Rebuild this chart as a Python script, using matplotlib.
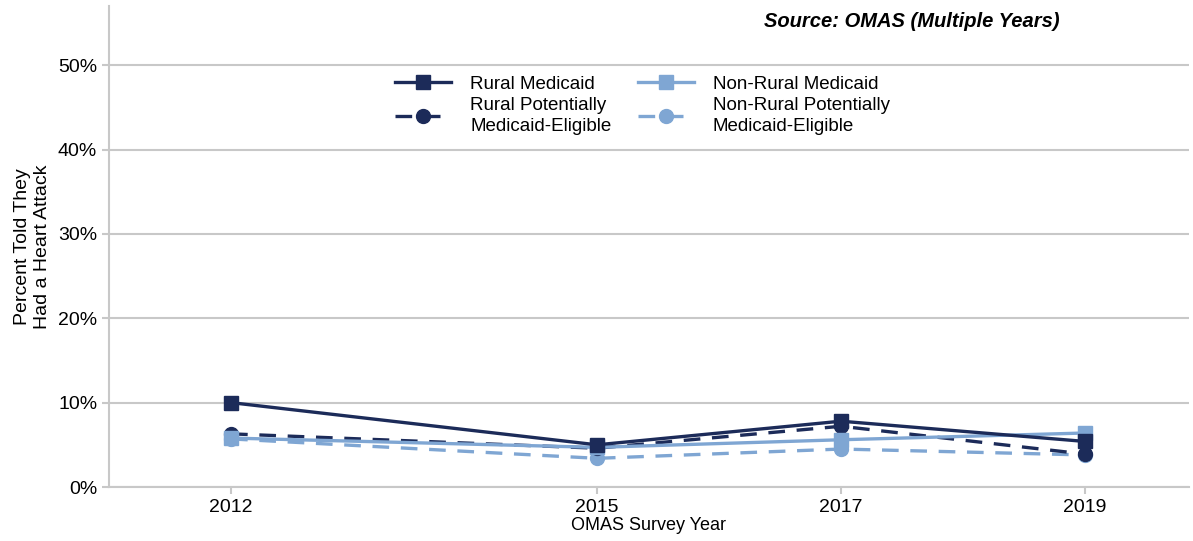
import matplotlib.pyplot as plt
from matplotlib.ticker import PercentFormatter

# Datos (porcentaje)
anios = [2012, 2015, 2017, 2019]
rural_medicaid = [10.0, 5.0, 7.8, 5.4]
rural_elegible = [6.3, 4.6, 7.2, 3.9]
no_rural_medicaid = [5.8, 4.7, 5.6, 6.4]
no_rural_elegible = [5.7, 3.4, 4.5, 3.8]

azul_oscuro = "#1C2B59"
azul_claro = "#7FA6D3"
gris = "#C8C8C8"

plt.rcParams["font.family"] = ["Liberation Sans", "DejaVu Sans"]

fig = plt.figure(figsize=(11.93, 5.41), dpi=100)
ax = fig.add_axes([0.0914, 0.0998, 0.905, 0.889])

ax.plot(anios, rural_medicaid, color=azul_oscuro, lw=2.4, marker="s",
        markersize=10, label="Rural Medicaid", zorder=5)
ax.plot(anios, no_rural_medicaid, color=azul_claro, lw=2.4, marker="s",
        markersize=10, label="Non-Rural Medicaid", zorder=4)
ax.plot(anios, rural_elegible, color=azul_oscuro, lw=2.4, marker="o",
        markersize=10, dashes=(5, 3.5),
        label="Rural Potentially\nMedicaid-Eligible", zorder=3)
ax.plot(anios, no_rural_elegible, color=azul_claro, lw=2.4, marker="o",
        markersize=10, dashes=(5, 3.5),
        label="Non-Rural Potentially\nMedicaid-Eligible", zorder=2)

ax.set_xlim(2011.0, 2019.85)
ax.set_ylim(0, 57)
ax.set_xticks(anios)
ax.set_yticks([0, 10, 20, 30, 40, 50])
ax.yaxis.set_major_formatter(PercentFormatter(decimals=0))
ax.grid(axis="y", color=gris, lw=1.5)
ax.set_axisbelow(True)

for lado in ["top", "right"]:
    ax.spines[lado].set_visible(False)
for lado in ["left", "bottom"]:
    ax.spines[lado].set_color(gris)
    ax.spines[lado].set_linewidth(1.5)
ax.tick_params(colors=gris, labelcolor="black", labelsize=14, width=1.5, length=5)

ax.set_xlabel("OMAS Survey Year", fontsize=13, labelpad=1)
ax.set_ylabel("Percent Told They\nHad a Heart Attack", fontsize=14)
ax.yaxis.set_label_coords(-0.054, 0.5)

# Orden de leyenda: fila 1 Medicaid, fila 2 elegibles
handles, labels = ax.get_legend_handles_labels()
orden = [0, 2, 1, 3]
leyenda = ax.legend([handles[i] for i in orden], [labels[i] for i in orden],
                    ncol=2, frameon=False, fontsize=13.5, loc="upper center",
                    bbox_to_anchor=(0.494, 0.89), handlelength=3.0,
                    handletextpad=1.0, columnspacing=1.4, labelspacing=0.2)
for t in leyenda.get_texts():
    t.set_linespacing(1.35)

fig.text(0.8885, 0.96, "Source: OMAS (Multiple Years)", fontsize=14.5,
         fontweight="bold", fontstyle="italic", ha="right", va="center")

plt.savefig("out.png", dpi=100)
